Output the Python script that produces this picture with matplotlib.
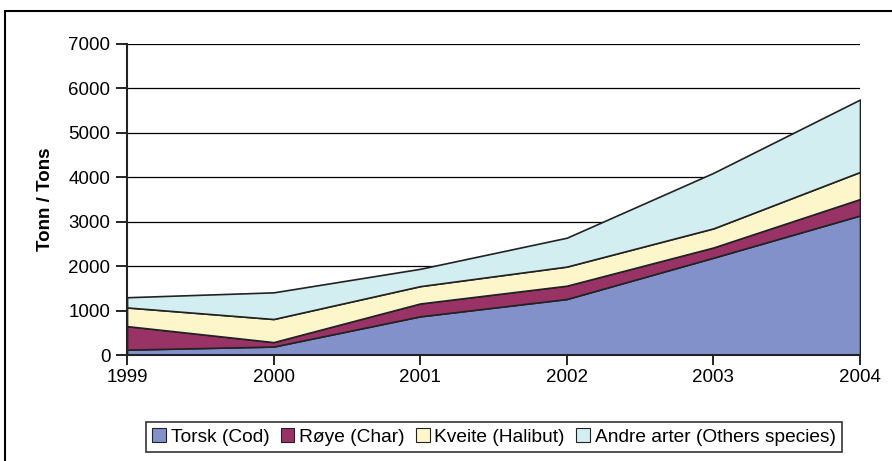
import matplotlib.pyplot as plt
from matplotlib.patches import Rectangle

plt.rcParams['font.family'] = ['Liberation Sans', 'DejaVu Sans']

years = [1999, 2000, 2001, 2002, 2003, 2004]
torsk = [120, 190, 870, 1260, 2190, 3140]
roye = [530, 100, 290, 300, 230, 370]
kveite = [420, 520, 390, 430, 430, 610]
andre = [230, 600, 390, 650, 1250, 1630]

labels = ['Torsk (Cod)', 'Røye (Char)', 'Kveite (Halibut)', 'Andre arter (Others species)']
colors = ['#8291C9', '#993366', '#FCF6CA', '#D3EEF0']

W, H = 892, 461
fig = plt.figure(figsize=(W / 100, H / 100), dpi=100)

# ramme rundt hele figuren
fig.patches.append(Rectangle((5 / W, -0.1), 1.2, 1 - 11 / H + 0.1, transform=fig.transFigure,
                             fill=False, edgecolor='black', linewidth=1.5))

ax = fig.add_axes([127 / W, 1 - 355 / H, (860 - 127) / W, (355 - 44) / H])

polys = ax.stackplot(years, torsk, roye, kveite, andre, labels=labels, colors=colors,
                     edgecolor='#222222', linewidth=1.2, zorder=2)

ax.set_xlim(1999, 2004)
ax.set_ylim(0, 7000)
ax.set_xticks(years)
ax.set_yticks(range(0, 7001, 1000))
ax.yaxis.grid(True, color='black', linewidth=0.9, zorder=0)
ax.set_axisbelow(True)

for s in ['top', 'right']:
    ax.spines[s].set_visible(False)
for s in ['left', 'bottom']:
    ax.spines[s].set_linewidth(1.5)
    ax.spines[s].set_color('#222222')
    ax.spines[s].set_zorder(3)

ax.tick_params(axis='y', direction='out', length=8, width=1.2, labelsize=13.5, pad=4)
ax.tick_params(axis='x', direction='out', length=7, width=1.2, labelsize=13.5, pad=3)
ax.set_ylabel('Tonn / Tons', fontsize=13.5, fontweight='bold', labelpad=10)

leg = fig.legend(handles=polys, labels=labels, ncol=4, loc='center',
                 bbox_to_anchor=(494 / W, 1 - 437 / H), frameon=True, fancybox=False,
                 edgecolor='black', fontsize=13.8, handlelength=0.7, handleheight=0.7,
                 handletextpad=0.25, columnspacing=0.6, borderpad=0.35)
leg.get_frame().set_linewidth(1.2)
for h in leg.legend_handles:
    h.set_edgecolor('#222222')
    h.set_linewidth(0.8)

plt.savefig('out.png', dpi=100)
